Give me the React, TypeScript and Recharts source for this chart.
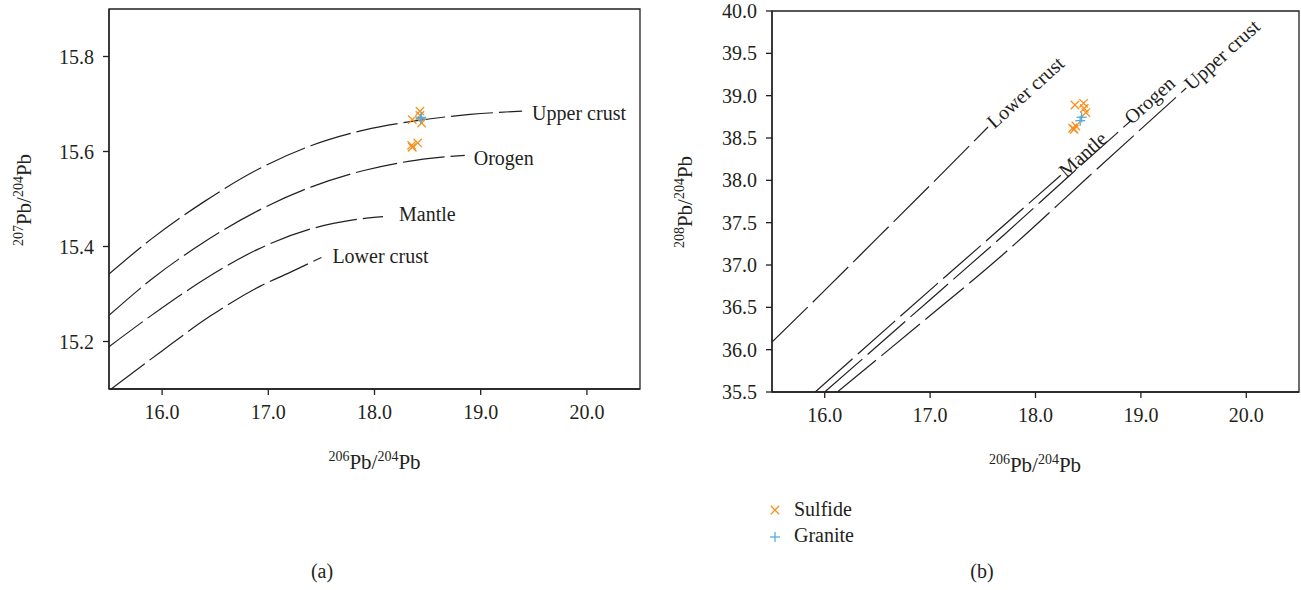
import React from "react";
import {
  ComposedChart,
  Line,
  Scatter,
  XAxis,
  YAxis,
  ReferenceArea,
  ReferenceDot,
} from "recharts";

// axis ticks
const xTicks = [16, 17, 18, 19, 20];
const yTicks207 = [15.2, 15.4, 15.6, 15.8];
const yTicks208 = [35.5, 36, 36.5, 37, 37.5, 38, 38.5, 39, 39.5, 40];

// (a) 207Pb/204Pb vs 206Pb/204Pb growth curves
const upperCrust207 = [
  { x: 15.5, y: 15.342 },
  { x: 15.9, y: 15.416 },
  { x: 16.4, y: 15.495 },
  { x: 16.9, y: 15.562 },
  { x: 17.4, y: 15.612 },
  { x: 17.9, y: 15.645 },
  { x: 18.4, y: 15.665 },
  { x: 18.9, y: 15.678 },
  { x: 19.39, y: 15.685 },
];
const orogen207 = [
  { x: 15.5, y: 15.255 },
  { x: 15.9, y: 15.331 },
  { x: 16.4, y: 15.41 },
  { x: 16.9, y: 15.475 },
  { x: 17.4, y: 15.525 },
  { x: 17.9, y: 15.56 },
  { x: 18.4, y: 15.582 },
  { x: 18.85, y: 15.592 },
];
const mantle207 = [
  { x: 15.5, y: 15.189 },
  { x: 15.9, y: 15.255 },
  { x: 16.4, y: 15.331 },
  { x: 16.9, y: 15.394 },
  { x: 17.4, y: 15.437 },
  { x: 17.8, y: 15.456 },
  { x: 18.08, y: 15.463 },
];
const lowerCrust207 = [
  { x: 15.52, y: 15.1 },
  { x: 15.98, y: 15.177 },
  { x: 16.45, y: 15.253 },
  { x: 16.92, y: 15.316 },
  { x: 17.2, y: 15.345 },
  { x: 17.5, y: 15.377 },
];

// (b) 208Pb/204Pb vs 206Pb/204Pb growth curves
const lowerCrust208 = [
  { x: 15.5, y: 36.09 },
  { x: 16.0, y: 36.7 },
  { x: 16.5, y: 37.32 },
  { x: 17.0, y: 37.94 },
  { x: 17.55, y: 38.63 },
];
const mantle208 = [
  { x: 15.91, y: 35.5 },
  { x: 16.75, y: 36.43 },
  { x: 17.5, y: 37.25 },
  { x: 18.24, y: 38.06 },
];
const orogen208 = [
  { x: 16.0, y: 35.5 },
  { x: 17.0, y: 36.59 },
  { x: 17.7, y: 37.355 },
  { x: 18.3, y: 38.03 },
  { x: 18.91, y: 38.71 },
];
const upperCrust208 = [
  { x: 16.12, y: 35.5 },
  { x: 16.9, y: 36.3 },
  { x: 17.67, y: 37.1 },
  { x: 18.5, y: 38.04 },
  { x: 19.43, y: 39.09 },
];

// samples
const sulfide207 = [
  { x: 18.428, y: 15.685 },
  { x: 18.428, y: 15.676 },
  { x: 18.356, y: 15.667 },
  { x: 18.444, y: 15.66 },
  { x: 18.35, y: 15.613 },
  { x: 18.407, y: 15.618 },
  { x: 18.356, y: 15.609 },
];
const granite207 = [
  { x: 18.435, y: 15.669 },
  { x: 18.44, y: 15.672 },
];
const sulfide208 = [
  { x: 18.374, y: 38.89 },
  { x: 18.456, y: 38.91 },
  { x: 18.462, y: 38.85 },
  { x: 18.478, y: 38.8 },
  { x: 18.352, y: 38.615 },
  { x: 18.383, y: 38.642 },
  { x: 18.367, y: 38.603 },
];
const granite208 = [
  { x: 18.437, y: 38.745 },
  { x: 18.424, y: 38.705 },
];

const INK = "#231f20";
const ORANGE = "#f7901e";
const BLUE = "#5aaadb";
const FONT = "'Liberation Serif', 'Times New Roman', serif";

function Cross(props: any) {
  const { cx, cy } = props;
  if (cx == null || cy == null) return null;
  const s = 4.2;
  return (
    <g stroke={ORANGE} strokeWidth={1.3}>
      <line x1={cx - s} y1={cy - s} x2={cx + s} y2={cy + s} />
      <line x1={cx - s} y1={cy + s} x2={cx + s} y2={cy - s} />
    </g>
  );
}

function Plus(props: any) {
  const { cx, cy } = props;
  if (cx == null || cy == null) return null;
  const s = 5;
  return (
    <g stroke={BLUE} strokeWidth={1.3}>
      <line x1={cx - s} y1={cy} x2={cx + s} y2={cy} />
      <line x1={cx} y1={cy - s} x2={cx} y2={cy + s} />
    </g>
  );
}

const tickStyle = { fill: INK, fontSize: 20, fontFamily: FONT };
const lineStyle = { stroke: INK, strokeWidth: 1.3 };

const curvesA = [
  { name: "Upper crust", data: upperCrust207, dx: 10, dy: 9 },
  { name: "Orogen", data: orogen207, dx: 9, dy: 10 },
  { name: "Mantle", data: mantle207, dx: 16, dy: 4 },
  { name: "Lower crust", data: lowerCrust207, dx: 11, dy: 6 },
];

const curvesB = [
  { name: "Lower crust", data: lowerCrust208, dx: 3, dy: 6 },
  { name: "Mantle", data: mantle208, dx: 2, dy: 6 },
  { name: "Orogen", data: orogen208, dx: -3, dy: 4 },
  { name: "Upper crust", data: upperCrust208, dx: 2, dy: 6 },
];

function PanelA() {
  return (
    <ComposedChart
      width={650}
      height={480}
      margin={{ top: 9, right: 10, left: 0, bottom: 0 }}
    >
      <XAxis
        type="number"
        dataKey="x"
        domain={[15.5, 20.5]}
        ticks={xTicks}
        interval={0}
        allowDataOverflow
        tickFormatter={(v: number) => v.toFixed(1)}
        tick={tickStyle}
        tickSize={6}
        tickMargin={10}
        axisLine={lineStyle}
        tickLine={lineStyle}
        height={91}
      />
      <YAxis
        type="number"
        dataKey="y"
        domain={[15.1, 15.9]}
        ticks={yTicks207}
        interval={0}
        allowDataOverflow
        tickFormatter={(v: number) => v.toFixed(1)}
        tick={tickStyle}
        tickSize={6}
        tickMargin={9}
        axisLine={lineStyle}
        tickLine={lineStyle}
        width={109}
      />
      <ReferenceArea
        x1={15.5}
        x2={20.5}
        y1={15.1}
        y2={15.9}
        fill="none"
        stroke={INK}
        strokeWidth={1.3}
        ifOverflow="visible"
      />
      {curvesA.map((c) => (
        <Line
          key={c.name}
          data={c.data}
          dataKey="y"
          type="monotone"
          stroke={INK}
          strokeWidth={1.2}
          strokeDasharray="42 6"
          dot={false}
          activeDot={false}
          isAnimationActive={false}
        />
      ))}
      {curvesA.map((c) => {
        const end = c.data[c.data.length - 1];
        return (
          <ReferenceDot
            key={"lab" + c.name}
            x={end.x}
            y={end.y}
            r={0}
            ifOverflow="visible"
            shape={(p: any) => (
              <text
                x={p.cx + c.dx}
                y={p.cy + c.dy}
                fill={INK}
                fontSize={20}
                fontFamily={FONT}
              >
                {c.name}
              </text>
            )}
          />
        );
      })}
      <Scatter data={sulfide207} shape={<Cross />} isAnimationActive={false} />
      <Scatter data={granite207} shape={<Plus />} isAnimationActive={false} />
    </ComposedChart>
  );
}

function PanelB() {
  return (
    <ComposedChart
      width={651}
      height={480}
      margin={{ top: 11, right: 2, left: 0, bottom: 0 }}
    >
      <XAxis
        type="number"
        dataKey="x"
        domain={[15.5, 20.5]}
        ticks={xTicks}
        interval={0}
        allowDataOverflow
        tickFormatter={(v: number) => v.toFixed(1)}
        tick={tickStyle}
        tickSize={6}
        tickMargin={10}
        axisLine={lineStyle}
        tickLine={lineStyle}
        height={88}
      />
      <YAxis
        type="number"
        dataKey="y"
        domain={[35.5, 40]}
        ticks={yTicks208}
        interval={0}
        allowDataOverflow
        tickFormatter={(v: number) => v.toFixed(1)}
        tick={tickStyle}
        tickSize={6}
        tickMargin={9}
        axisLine={lineStyle}
        tickLine={lineStyle}
        width={122}
      />
      <ReferenceArea
        x1={15.5}
        x2={20.5}
        y1={35.5}
        y2={40}
        fill="none"
        stroke={INK}
        strokeWidth={1.3}
        ifOverflow="visible"
      />
      {curvesB.map((c) => (
        <Line
          key={c.name}
          data={c.data}
          dataKey="y"
          type="monotone"
          stroke={INK}
          strokeWidth={1.2}
          strokeDasharray="50 7"
          dot={false}
          activeDot={false}
          isAnimationActive={false}
        />
      ))}
      {curvesB.map((c) => {
        const end = c.data[c.data.length - 1];
        return (
          <ReferenceDot
            key={"lab" + c.name}
            x={end.x}
            y={end.y}
            r={0}
            ifOverflow="visible"
            shape={(p: any) => (
              <text
                x={p.cx}
                y={p.cy}
                dx={c.dx}
                dy={c.dy}
                transform={`rotate(-42 ${p.cx} ${p.cy})`}
                fill={INK}
                fontSize={20}
                fontFamily={FONT}
              >
                {c.name}
              </text>
            )}
          />
        );
      })}
      <Scatter data={sulfide208} shape={<Cross />} isAnimationActive={false} />
      <Scatter data={granite208} shape={<Plus />} isAnimationActive={false} />
    </ComposedChart>
  );
}

function IsoLabel({ a, b }: { a: string; b: string }) {
  return (
    <>
      <tspan fontSize={14} dy={-8}>
        {a}
      </tspan>
      <tspan fontSize={21} dy={8}>
        Pb/
      </tspan>
      <tspan fontSize={14} dy={-8}>
        {b}
      </tspan>
      <tspan fontSize={21} dy={8}>
        Pb
      </tspan>
    </>
  );
}

export default function App() {
  return (
    <div
      style={{
        position: "absolute",
        left: 0,
        top: 0,
        width: 1301,
        height: 590,
        background: "#fff",
        fontFamily: FONT,
      }}
    >
      <div style={{ position: "absolute", left: 0, top: 0 }}>
        <PanelA />
      </div>
      <div style={{ position: "absolute", left: 650, top: 0 }}>
        <PanelB />
      </div>
      <svg
        width={1301}
        height={590}
        style={{ position: "absolute", left: 0, top: 0, pointerEvents: "none" }}
        fontFamily={FONT}
        fill={INK}
      >
        <text x={374.5} y={469} textAnchor="middle">
          <IsoLabel a="206" b="204" />
        </text>
        <text x={1035} y={471.5} textAnchor="middle">
          <IsoLabel a="206" b="204" />
        </text>
        <text transform="translate(31,200) rotate(-90)" textAnchor="middle">
          <IsoLabel a="207" b="204" />
        </text>
        <text transform="translate(692,202) rotate(-90)" textAnchor="middle">
          <IsoLabel a="208" b="204" />
        </text>
        <text x={322} y={578} textAnchor="middle" fontSize={20}>
          (a)
        </text>
        <text x={982} y={578} textAnchor="middle" fontSize={20}>
          (b)
        </text>
        <Cross cx={775} cy={510} />
        <text x={794} y={515.5} fontSize={20}>
          Sulfide
        </text>
        <Plus cx={775} cy={537} />
        <text x={794} y={542} fontSize={20}>
          Granite
        </text>
      </svg>
    </div>
  );
}
